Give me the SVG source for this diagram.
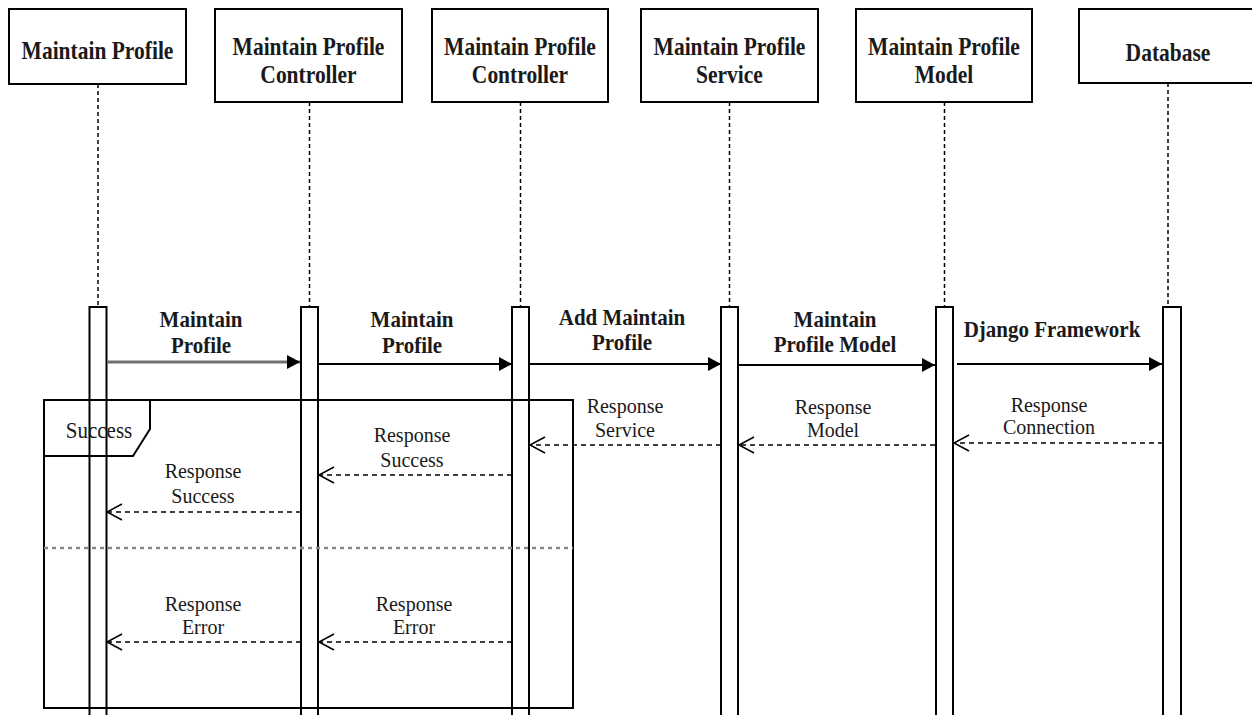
<svg xmlns="http://www.w3.org/2000/svg" width="1252" height="715" viewBox="0 0 1252 715">
<style>
.box{fill:#fff;stroke:#000;stroke-width:2}
.life{stroke:#000;stroke-width:1.5;stroke-dasharray:4 3;fill:none}
.bar{fill:#fff;stroke:#000;stroke-width:2}
text{font-family:'Liberation Serif','Tinos','DejaVu Serif','Noto Serif',serif;fill:#1a1a1a;text-anchor:middle}
.hdr{font-weight:bold;font-size:21.5px}
.lbl{font-weight:bold;font-size:21px}
.rsp{font-weight:normal;font-size:20px}
.msg{stroke:#000;stroke-width:2;fill:none;marker-end:url(#solid)}
.ret{stroke:#000;stroke-width:1.5;stroke-dasharray:5 4;fill:none;marker-end:url(#open)}
.frame{fill:none;stroke:#000;stroke-width:2}
.div{stroke:#888;stroke-width:2.5;stroke-dasharray:4 4;fill:none}
</style>
<defs>
<marker id="solid" markerUnits="userSpaceOnUse" markerWidth="14" markerHeight="14" refX="13" refY="7" orient="auto" viewBox="0 0 14 14">
<path d="M0,0 L13,7 L0,14 z" fill="#000"/>
</marker>
<marker id="open" markerUnits="userSpaceOnUse" markerWidth="18" markerHeight="18" refX="15" refY="9" orient="auto" viewBox="0 0 18 18" overflow="visible">
<path d="M0,1 L15,9 L0,17" fill="none" stroke="#000" stroke-width="1.5"/>
</marker>
</defs>
<rect width="1252" height="715" fill="#fff"/>

<g id="p1">
<rect class="box" x="9" y="9" width="177" height="75"/>
<text class="hdr" transform="translate(97.5,59) scale(1,1.2)">Maintain Profile</text>
<line class="life" x1="98" y1="84" x2="98" y2="307"/>
<rect class="bar" x="89.5" y="307" width="17" height="420"/>
</g>
<g id="p2">
<rect class="box" x="215" y="9" width="187" height="93"/>
<text class="hdr" transform="translate(308.5,55) scale(1,1.2)">Maintain Profile</text>
<text class="hdr" transform="translate(308.5,83) scale(1,1.2)">Controller</text>
<line class="life" x1="309.5" y1="102" x2="309.5" y2="307"/>
<rect class="bar" x="301" y="307" width="17" height="420"/>
</g>
<g id="p3">
<rect class="box" x="432" y="9" width="176" height="93"/>
<text class="hdr" transform="translate(520,55) scale(1,1.2)">Maintain Profile</text>
<text class="hdr" transform="translate(520,83) scale(1,1.2)">Controller</text>
<line class="life" x1="520.5" y1="102" x2="520.5" y2="307"/>
<rect class="bar" x="512" y="307" width="17" height="420"/>
</g>
<g id="p4">
<rect class="box" x="641" y="9" width="177" height="93"/>
<text class="hdr" transform="translate(729.5,55) scale(1,1.2)">Maintain Profile</text>
<text class="hdr" transform="translate(729.5,83) scale(1,1.2)">Service</text>
<line class="life" x1="729.5" y1="102" x2="729.5" y2="307"/>
<rect class="bar" x="721" y="307" width="17" height="420"/>
</g>
<g id="p5">
<rect class="box" x="856" y="9" width="176" height="93"/>
<text class="hdr" transform="translate(944,55) scale(1,1.2)">Maintain Profile</text>
<text class="hdr" transform="translate(944,83) scale(1,1.2)">Model</text>
<line class="life" x1="944.5" y1="102" x2="944.5" y2="307"/>
<rect class="bar" x="936" y="307" width="17" height="420"/>
</g>
<g id="p6">
<rect class="box" x="1079" y="9" width="178" height="74"/>
<text class="hdr" transform="translate(1168,61) scale(1,1.2)">Database</text>
<line class="life" x1="1168" y1="83" x2="1168" y2="307"/>
<rect class="bar" x="1163" y="307" width="18" height="420"/>
</g>

<g id="alt-frame">
<rect class="frame" x="44" y="400" width="529" height="308"/>
<path class="frame" d="M44,456 H133 L150,429 V400"/>
<text class="rsp" transform="translate(99,438) scale(1,1.1)" style="font-size:21px">Success</text>
<line class="div" x1="44" y1="548" x2="573" y2="548"/>
</g>

<g id="connectors">
<line class="msg" x1="107" y1="362" x2="300" y2="362" style="stroke:#707070;stroke-width:3"/>
<line class="msg" x1="318" y1="364" x2="512" y2="364"/>
<line class="msg" x1="529" y1="364" x2="721" y2="364"/>
<line class="msg" x1="739" y1="365" x2="935" y2="365"/>
<line class="msg" x1="957" y1="364" x2="1162" y2="364"/>
<line class="ret" x1="721" y1="445" x2="530" y2="445"/>
<line class="ret" x1="935" y1="445" x2="739" y2="445"/>
<line class="ret" x1="1163" y1="443" x2="954" y2="443"/>
<line class="ret" x1="512" y1="475" x2="319" y2="475"/>
<line class="ret" x1="301" y1="512" x2="107" y2="512"/>
<line class="ret" x1="512" y1="642" x2="319" y2="642"/>
<line class="ret" x1="301" y1="642" x2="107" y2="642"/>
</g>

<g id="labels">
<text class="lbl" transform="translate(201,327) scale(1,1.12)">Maintain</text>
<text class="lbl" transform="translate(201,353) scale(1,1.12)">Profile</text>
<text class="lbl" transform="translate(412,327) scale(1,1.12)">Maintain</text>
<text class="lbl" transform="translate(412,353) scale(1,1.12)">Profile</text>
<text class="lbl" transform="translate(622,325) scale(1,1.12)">Add Maintain</text>
<text class="lbl" transform="translate(622,350) scale(1,1.12)">Profile</text>
<text class="lbl" transform="translate(835,327) scale(1,1.12)">Maintain</text>
<text class="lbl" transform="translate(835,352) scale(1,1.12)">Profile Model</text>
<text class="lbl" transform="translate(1052,337) scale(1,1.12)">Django Framework</text>
<text class="rsp" x="625" y="413">Response</text>
<text class="rsp" x="625" y="437">Service</text>
<text class="rsp" x="833" y="414">Response</text>
<text class="rsp" x="833" y="437">Model</text>
<text class="rsp" x="1049" y="412">Response</text>
<text class="rsp" x="1049" y="434">Connection</text>
<text class="rsp" x="412" y="442">Response</text>
<text class="rsp" x="412" y="467">Success</text>
<text class="rsp" x="203" y="478">Response</text>
<text class="rsp" x="203" y="503">Success</text>
<text class="rsp" x="203" y="611">Response</text>
<text class="rsp" x="203" y="634">Error</text>
<text class="rsp" x="414" y="611">Response</text>
<text class="rsp" x="414" y="634">Error</text>
</g>
</svg>
